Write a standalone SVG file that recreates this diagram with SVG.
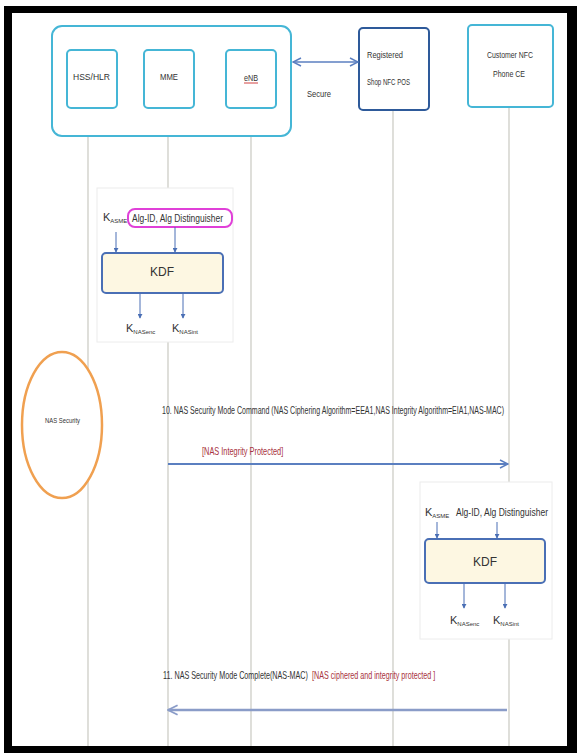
<svg xmlns="http://www.w3.org/2000/svg" width="577" height="753" viewBox="0 0 577 753">
<style>
  text { font-family: "Liberation Sans", Arial, sans-serif; fill: #333; }
  .lbl { font-size: 10px; }
  .sm { font-size: 9px; }
  .red { fill: #a83240; font-size: 10px; }
  .life { stroke: #c9c9c2; stroke-width: 1.2; fill: none; }
  .inner { fill: #fff; stroke: #45b6d6; stroke-width: 2; }
  .panel { fill: #fff; stroke: #ececec; stroke-width: 1; }
  .kdf { fill: #fdf7e2; stroke: #4a6fb5; stroke-width: 2; }
  .karrow { stroke: #4a6fb5; stroke-width: 1; fill: none; marker-end: url(#sa); }
  .k { font-size: 11px; }
  .sub { font-size: 6px; }
</style>
<defs>
  <marker id="oa" viewBox="0 0 10 10" refX="9" refY="5" markerWidth="10" markerHeight="10" markerUnits="userSpaceOnUse" orient="auto-start-reverse">
    <path d="M1,1 L9,5 L1,9" fill="none" stroke="#5b7fc0" stroke-width="1.5"/>
  </marker>
  <marker id="oa2" viewBox="0 0 10 10" refX="9" refY="5" markerWidth="12" markerHeight="12" markerUnits="userSpaceOnUse" orient="auto-start-reverse">
    <path d="M1,1 L9,5 L1,9" fill="none" stroke="#8a9cc8" stroke-width="1.5"/>
  </marker>
  <marker id="sa" viewBox="0 0 6 6" refX="5" refY="3" markerWidth="5" markerHeight="5" markerUnits="userSpaceOnUse" orient="auto">
    <path d="M0,0 L6,3 L0,6 Z" fill="#4a6fb5"/>
  </marker>
</defs>

<rect x="0" y="0" width="577" height="753" fill="#fff"/>
<rect x="4" y="6" width="573" height="747" fill="#000"/>
<rect x="12" y="13" width="555" height="733" fill="#fff"/>

<g id="lifelines">
  <line class="life" x1="88" y1="108" x2="88" y2="746"/>
  <line class="life" x1="168" y1="108" x2="168" y2="746"/>
  <line class="life" x1="251" y1="108" x2="251" y2="746"/>
  <line class="life" x1="393" y1="110" x2="393" y2="746"/>
  <line class="life" x1="509" y1="107" x2="509" y2="746"/>
</g>

<g id="core-network">
  <rect x="52" y="26" width="239" height="110" rx="10" fill="#fff" stroke="#45b6d6" stroke-width="2"/>
</g>
<g id="hss">
  <rect class="inner" x="67" y="50" width="50" height="58" rx="4"/>
  <text class="sm" x="73" y="80" textLength="37" lengthAdjust="spacingAndGlyphs">HSS/HLR</text>
</g>
<g id="mme">
  <rect class="inner" x="144" y="50" width="50" height="58" rx="4"/>
  <text class="sm" x="160" y="80" textLength="18" lengthAdjust="spacingAndGlyphs">MME</text>
</g>
<g id="enb">
  <rect class="inner" x="226" y="50" width="50" height="58" rx="4"/>
  <text class="sm" x="244" y="81" textLength="14" lengthAdjust="spacingAndGlyphs">eNB</text>
  <line x1="244" y1="83" x2="258" y2="83" stroke="#e08080" stroke-width="1.5"/>
</g>
<g id="shop">
  <rect x="359" y="28" width="70" height="82" rx="4" fill="#fff" stroke="#2e5a9a" stroke-width="2"/>
  <text class="sm" x="367" y="58" textLength="36" lengthAdjust="spacingAndGlyphs">Registered</text>
  <text class="sm" x="367" y="85" textLength="43" lengthAdjust="spacingAndGlyphs">Shop NFC POS</text>
</g>
<g id="customer">
  <rect x="468" y="25" width="85" height="82" rx="4" fill="#fff" stroke="#45b6d6" stroke-width="2"/>
  <text class="sm" x="487" y="58" textLength="46" lengthAdjust="spacingAndGlyphs">Customer NFC</text>
  <text class="sm" x="493" y="77" textLength="32" lengthAdjust="spacingAndGlyphs">Phone CE</text>
</g>

<g id="kdf-mme">
  <rect class="panel" x="97" y="188" width="136" height="154"/>
  <text class="k" x="103" y="221">K<tspan class="sub" dy="2">ASME</tspan></text>
  <rect x="128" y="209" width="104" height="18" rx="7" fill="#fff" stroke="#e040d8" stroke-width="2"/>
  <text class="lbl" x="132" y="222" textLength="91" lengthAdjust="spacingAndGlyphs">Alg-ID, Alg Distinguisher</text>
  <line class="karrow" x1="116" y1="232" x2="116" y2="252"/>
  <line class="karrow" x1="175" y1="227" x2="175" y2="252"/>
  <rect class="kdf" x="102" y="253" width="121" height="40" rx="4"/>
  <text x="162" y="276" font-size="12" text-anchor="middle">KDF</text>
  <line class="karrow" x1="140" y1="293" x2="140" y2="318"/>
  <line class="karrow" x1="183" y1="293" x2="183" y2="318"/>
  <text class="k" x="126" y="332">K<tspan class="sub" dy="2">NASenc</tspan></text>
  <text class="k" x="172" y="332">K<tspan class="sub" dy="2">NASint</tspan></text>
</g>

<g id="nas-security">
  <ellipse cx="62" cy="425" rx="40" ry="73" fill="#fff" stroke="#f0a050" stroke-width="2.5"/>
  <text x="45" y="423" font-size="8" textLength="35" lengthAdjust="spacingAndGlyphs">NAS Security</text>
</g>

<g id="kdf-ue">
  <rect class="panel" x="420" y="482" width="132" height="157"/>
  <text class="k" x="425" y="516">K<tspan class="sub" dy="2">ASME</tspan></text>
  <text class="lbl" x="456" y="516" textLength="92" lengthAdjust="spacingAndGlyphs">Alg-ID, Alg Distinguisher</text>
  <line class="karrow" x1="437" y1="522" x2="437" y2="538"/>
  <line class="karrow" x1="497" y1="522" x2="497" y2="538"/>
  <rect class="kdf" x="425" y="539" width="120" height="44" rx="4"/>
  <text x="485" y="566" font-size="12" text-anchor="middle">KDF</text>
  <line class="karrow" x1="464" y1="583" x2="464" y2="608"/>
  <line class="karrow" x1="505" y1="583" x2="505" y2="608"/>
  <text class="k" x="450" y="624">K<tspan class="sub" dy="2">NASenc</tspan></text>
  <text class="k" x="493" y="624">K<tspan class="sub" dy="2">NASint</tspan></text>
</g>

<g id="connectors">
  <line x1="293" y1="62" x2="358" y2="62" stroke="#5b7fc0" stroke-width="1.5" marker-start="url(#oa)" marker-end="url(#oa)"/>
  <text class="sm" x="307" y="97" textLength="24" lengthAdjust="spacingAndGlyphs">Secure</text>

  <text class="lbl" transform="translate(162,414) scale(0.68,1)" x="0" y="0" textLength="503" lengthAdjust="spacingAndGlyphs">10. NAS Security Mode Command (NAS Ciphering Algorithm=EEA1,NAS Integrity Algorithm=EIA1,NAS-MAC)</text>
  <text class="red" transform="translate(202,455) scale(0.7,1)" x="0" y="0" textLength="116" lengthAdjust="spacingAndGlyphs">[NAS Integrity Protected]</text>
  <line x1="168" y1="464" x2="508" y2="464" stroke="#5b7fc0" stroke-width="2" marker-end="url(#oa)"/>

  <text class="lbl" transform="translate(163,679) scale(0.7,1)" x="0" y="0" textLength="207" lengthAdjust="spacingAndGlyphs">11. NAS Security Mode Complete(NAS-MAC)</text>
  <text class="red" transform="translate(312,679) scale(0.7,1)" x="0" y="0" textLength="176" lengthAdjust="spacingAndGlyphs">[NAS ciphered and integrity protected ]</text>
  <line x1="507" y1="710" x2="168" y2="710" stroke="#8a9cc8" stroke-width="2.5" marker-end="url(#oa2)"/>
</g>
</svg>
